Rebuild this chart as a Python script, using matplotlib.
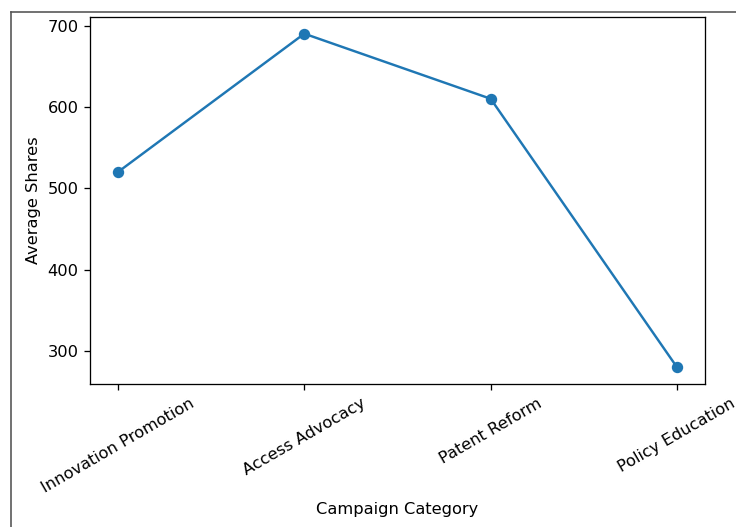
import matplotlib
matplotlib.use("Agg")
import matplotlib.pyplot as plt
from matplotlib.lines import Line2D

# Data
categories = ["Innovation Promotion", "Access Advocacy", "Patent Reform", "Policy Education"]
avg_shares = [520, 690, 610, 280]

# reference looks like an upscaled screenshot, so render at a higher dpi
DPI = 117
W, H = 736, 527
fig = plt.figure(figsize=(W / DPI, H / DPI), dpi=DPI)
ax = fig.add_axes([90 / W, 1 - 384 / H, 615 / W, 367 / H])

ax.plot(categories, avg_shares, marker="o", color="#1f77b4")
ax.set_xlabel("Campaign Category")
ax.set_ylabel("Average Shares")
ax.set_yticks([300, 400, 500, 600, 700])
plt.setp(ax.get_xticklabels(), rotation=30)

# frame left over from the screenshot edge
fig.add_artist(Line2D([11 / W, 11 / W], [0, 1 - 12 / H], color="#555555", lw=1.0))
fig.add_artist(Line2D([11 / W, 1], [1 - 12 / H, 1 - 12 / H], color="#555555", lw=1.0))

plt.savefig("out.png", dpi=DPI)
